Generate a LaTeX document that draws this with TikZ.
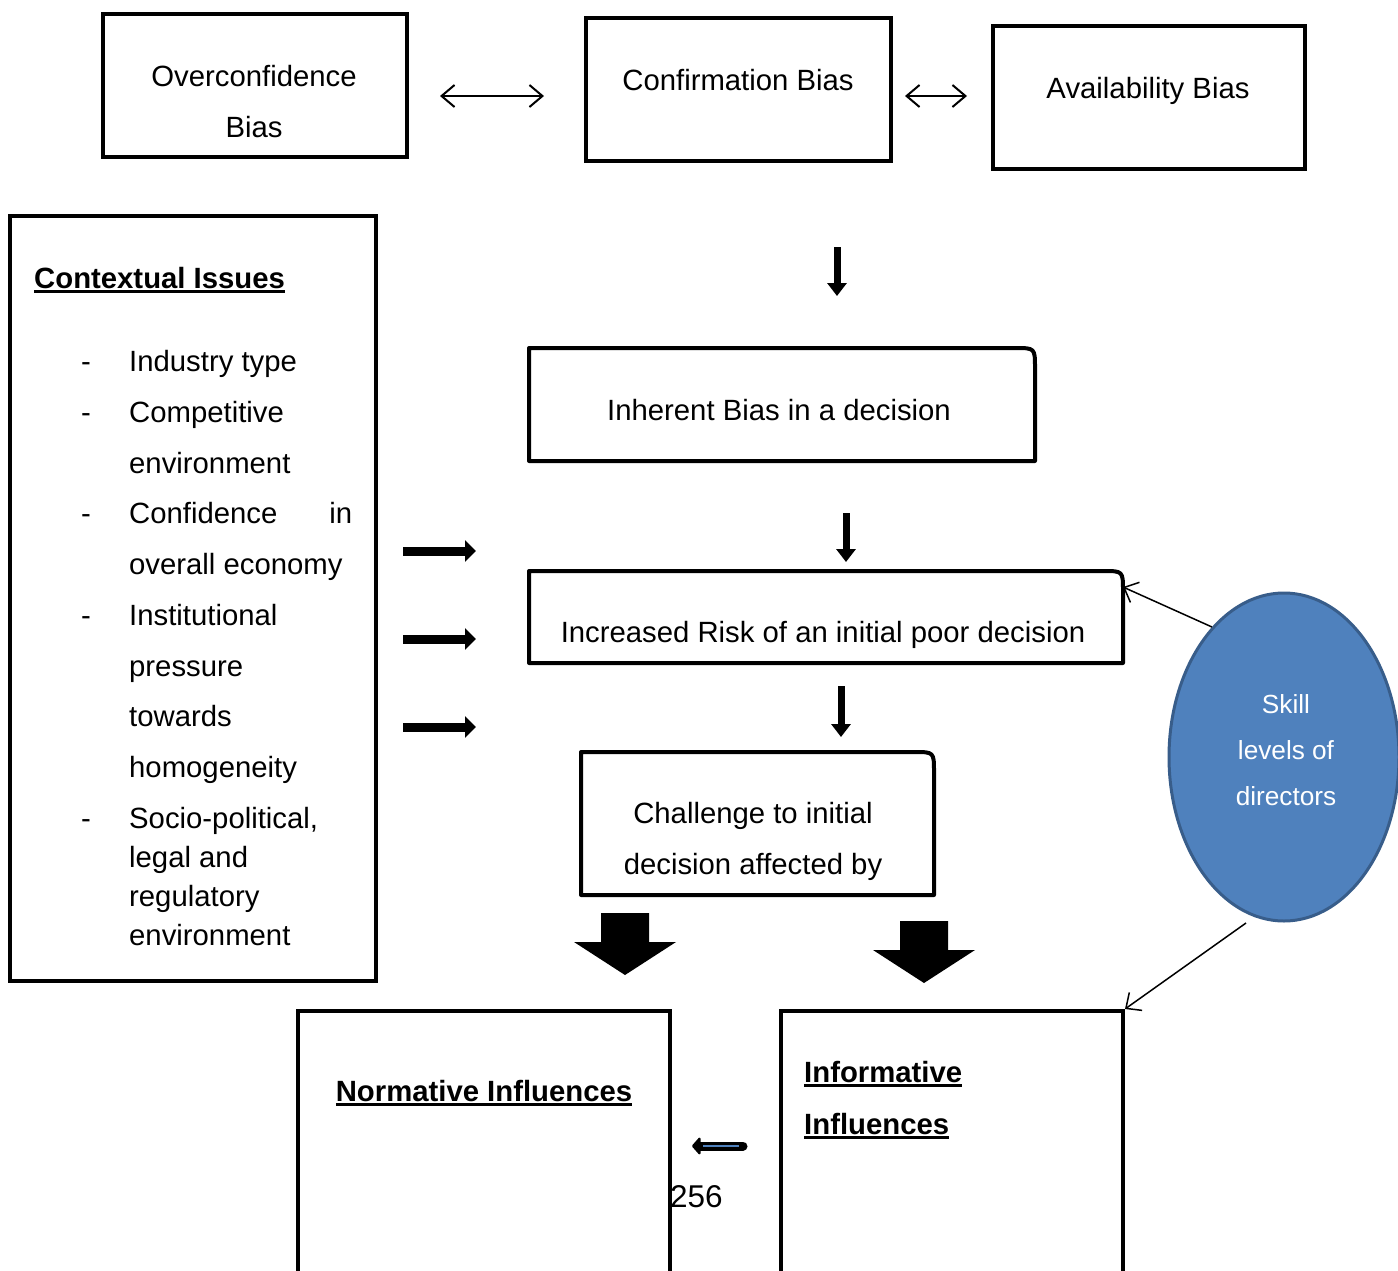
\documentclass[tikz,border=0pt]{standalone}
\usepackage{fontspec}
\setmainfont{Liberation Sans}
\usetikzlibrary{arrows.meta,shapes.geometric}
\definecolor{skillfill}{HTML}{4F81BD}
\definecolor{skillline}{HTML}{385D8A}
\definecolor{ptrblue}{HTML}{4F81BD}
% underlined heading text with a heavier rule than \underline
\newcommand\ulbox[1]{\setbox0=\hbox{#1}\rlap{\vrule height -1.5pt depth 4.5pt width \wd0}\box0}
\begin{document}
\begin{tikzpicture}[x=1pt,y=-1pt,
  txt/.style={font=\fontsize{29.3}{35}\selectfont, inner sep=0pt, anchor=base},
  btxt/.style={font=\fontsize{29.3}{35}\selectfont\bfseries, inner sep=0pt, anchor=base},
  wtxt/.style={font=\fontsize{26.2}{31}\selectfont, text=white, inner sep=0pt, anchor=base},
  bx/.style={draw, line width=4pt, inner sep=0pt},
  rbx/.style={inner sep=0pt, outer sep=0pt},
  twohead/.style={line width=2pt, {Straight Barb[length=13pt,width=22pt]}-{Straight Barb[length=13pt,width=22pt]}},
  downarrow/.style={line width=7pt, -{Triangle[length=13pt,width=19pt]}},
  sidearrow/.style={line width=9pt, -{Triangle[length=11pt,width=21pt]}},
  thinptr/.style={line width=1.5pt, -{Straight Barb[length=12pt,width=22pt]}},
  blockarrow/.style={fill=black}]
\clip (0,0) rectangle (1398,1270);
\fill[white] (0,0) rectangle (1398,1270);

% ---- top row of biases ----
\node[bx, minimum width=304pt, minimum height=143pt] (over) at (255,85.5) {};
\node[bx, minimum width=305pt, minimum height=143pt] (conf) at (738.5,89.5) {};
\node[bx, minimum width=312pt, minimum height=143pt] (avail) at (1149,97.5) {};
\node[txt] (over1) at (254,86) {Overconfidence};
\node[txt] (over2) at (254,137) {Bias};
\node[txt] (conft) at (738,90) {Confirmation Bias};
\node[txt] (availt) at (1148,98) {Availability Bias};

\coordinate (da1) at (440,96);
\coordinate (db1) at (544,96);
\coordinate (da2) at (905,96);
\coordinate (db2) at (967,96);
\draw[twohead] (da1) -- (db1);
\draw[twohead] (da2) -- (db2);

% ---- contextual issues ----
\node[bx, minimum width=366pt, minimum height=765pt] (ctx) at (193,598.5) {};
\node[btxt, anchor=base west] (ctxh) at (34,288) {\ulbox{Contextual Issues}};
\foreach \y [count=\i] in {371,422,523,625,828}
  \node[txt, anchor=base west] (dash\i) at (81,\y) {-};
\node[txt, anchor=base west] (c1) at (129,371) {Industry type};
\node[txt, anchor=base west] (c2) at (129,422) {Competitive};
\node[txt, anchor=base west] (c3) at (129,473) {environment};
\node[txt, anchor=base west] (c4) at (129,523) {\makebox[223pt][l]{Confidence\hfill in}};
\node[txt, anchor=base west] (c5) at (129,574) {overall economy};
\node[txt, anchor=base west] (c6) at (129,625) {Institutional};
\node[txt, anchor=base west] (c7) at (129,676) {pressure};
\node[txt, anchor=base west] (c8) at (129,726) {towards};
\node[txt, anchor=base west] (c9) at (129,777) {homogeneity};
\node[txt, anchor=base west] (c10) at (129,828) {Socio-political,};
\node[txt, anchor=base west] (c11) at (129,867) {legal and};
\node[txt, anchor=base west] (c12) at (129,906) {regulatory};
\node[txt, anchor=base west] (c13) at (129,945) {environment};

\foreach \y [count=\i] in {551,639,727} {
  \coordinate (sa\i) at (403,\y);
  \coordinate (sb\i) at (476,\y);
  \draw[sidearrow] (sa\i) -- (sb\i);
}

% ---- central chain ----
\node[rbx, minimum width=506pt, minimum height=113pt] (inh) at (782,404.5) {};
\node[rbx, minimum width=594pt, minimum height=92pt] (risk) at (826,617) {};
\node[rbx, minimum width=353pt, minimum height=143pt] (chal) at (757.5,823.5) {};
\foreach \b in {inh,risk,chal}
  \draw[line width=4pt, line join=round]
    (\b.south west) -- (\b.north west) -- ([xshift=-20pt]\b.north east)
    .. controls (\b.north east) .. ([yshift=-20pt]\b.north east)
    -- (\b.south east) -- cycle;
\node[txt] (inht) at (779,420) {Inherent Bias in a decision};
\node[txt] (riskt) at (823,642) {Increased Risk of an initial poor decision};
\node[txt] (chal1) at (753,823) {Challenge to initial};
\node[txt] (chal2) at (753,874) {decision affected by};

\coordinate (v1a) at (837,247);  \coordinate (v1b) at (837,296);
\coordinate (v2a) at (846,513);  \coordinate (v2b) at (846,562);
\coordinate (v3a) at (841,686);  \coordinate (v3b) at (841,737);
\draw[downarrow] (v1a) -- (v1b);
\draw[downarrow] (v2a) -- (v2b);
\draw[downarrow] (v3a) -- (v3b);

% ---- block arrows towards the influences ----
\coordinate (ba1) at (625,913);
\coordinate (ba2) at (924,921);
\foreach \p in {ba1,ba2}
  \fill[blockarrow] (\p) ++(-24,0) -- ++(48,0) -- ++(0,29) -- ++(27,0)
    -- ++(-51,33) -- ++(-51,-33) -- ++(27,0) -- cycle;

% ---- influences ----
\node[bx, minimum width=372pt, minimum height=320pt] (norm) at (484,1171) {};
\node[bx, minimum width=342pt, minimum height=320pt] (inf) at (952,1171) {};
\node[btxt] (normt) at (484,1101) {\ulbox{Normative Influences}};
\node[btxt, anchor=base west] (inf1) at (804,1082) {\ulbox{Informative}};
\node[btxt, anchor=base west] (inf2) at (804,1134) {\ulbox{Influences}};

\coordinate (la) at (743,1146);
\coordinate (lb) at (692,1146);
\draw[line width=9pt, line cap=round, -{Triangle[length=9pt,width=20pt,round]}] (la) -- (lb);
\draw[ptrblue, line width=1.8pt] (739,1146) -- (703,1146);
\node[txt, anchor=base west, font=\fontsize{31.5}{38}\selectfont] (pg) at (670,1207) {256};

% ---- skill levels ----
\node[ellipse, fill=skillfill, draw=skillline, line width=3pt, inner sep=0pt,
      minimum width=230pt, minimum height=328pt] (sk) at (1284,757) {};
\node[wtxt] (sk1) at (1286,713) {Skill};
\node[wtxt] (sk2) at (1286,759) {levels of};
\node[wtxt] (sk3) at (1286,805) {directors};

\coordinate (riskpt) at (1123,587);
\coordinate (skfoot) at (1246,923);
\draw[thinptr] (sk.119) -- (riskpt);
\draw[thinptr] (skfoot) -- (inf.north east);
\end{tikzpicture}
\end{document}
